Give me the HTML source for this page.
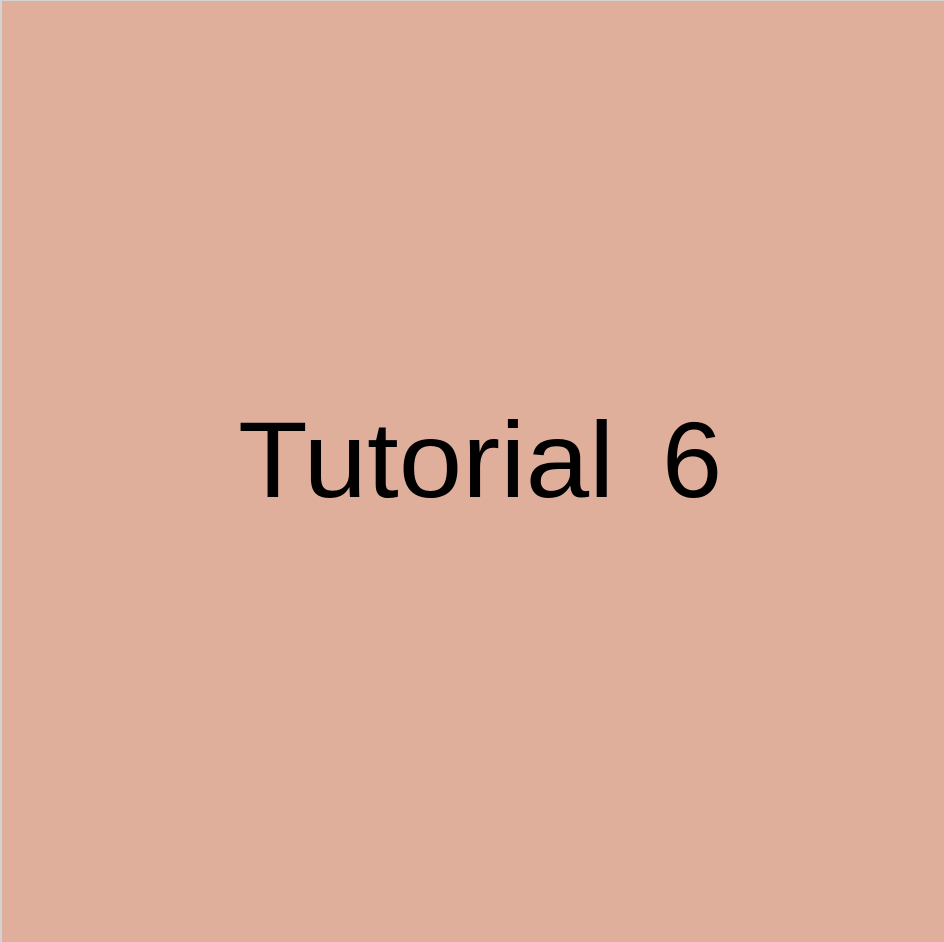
<!DOCTYPE html>
<html><head><meta charset="utf-8"><style>
html,body{margin:0;padding:0}
body{width:944px;height:942px;position:relative;overflow:hidden;background:#dfaf9c}
.frame{position:absolute;left:0;top:0;width:942px;height:941px;border-left:2px solid #d3d3d3;border-top:1px solid #d3d3d3;background:#dfaf9c}
.t{position:absolute;font-family:"Liberation Sans",sans-serif;font-size:108px;line-height:1;color:#000;white-space:nowrap;transform-origin:0 0}
</style></head><body>
<div class="frame"></div>
<span class="t" style="left:238px;top:406px;transform:scaleX(1.057);">Tutorial</span>
<span class="t" style="left:662px;top:406px;">6</span>
</body></html>
